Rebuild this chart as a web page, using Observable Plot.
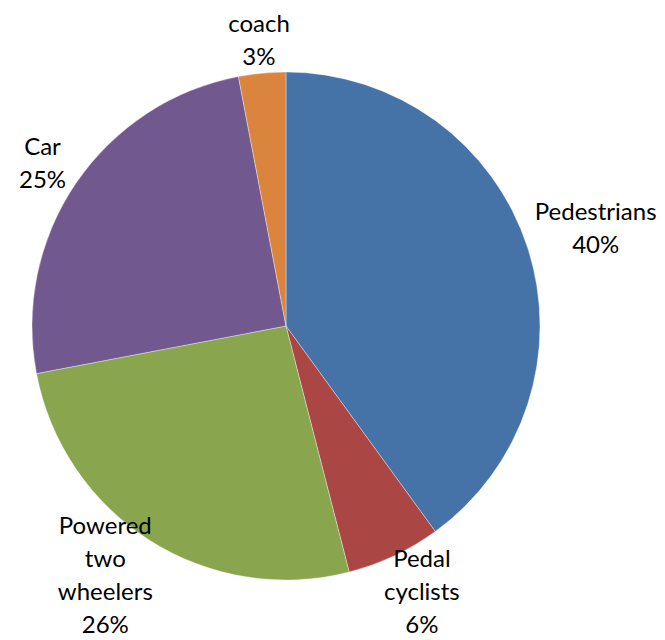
<!DOCTYPE html>
<html><head><meta charset="utf-8">
<script src="https://cdn.jsdelivr.net/npm/d3@7"></script>
<script src="https://cdn.jsdelivr.net/npm/@observablehq/plot@0.6"></script>
<style>body{margin:0;background:#fff}</style>
</head><body><div id="chart"></div>
<script>
const categories = ["Pedestrians", "Pedal cyclists", "Powered two wheelers", "Car", "coach"];
const labelLines = ["Pedestrians", "Pedal\ncyclists", "Powered\ntwo\nwheelers", "Car", "coach"];
const values = [40, 6, 26, 25, 3];
const colors = ["#4572A7", "#AA4643", "#89A54E", "#71588F", "#DB843D"];

const W = 665, H = 640, CX = 286, CY = 326, R = 254;
const FONT = 24, LH = 33, GAP = 3, FAMILY = "Lato";

const arcs = d3.pie().sort(null).value(d => d)(values);
const total = d3.sum(values);
const ctx = document.createElement("canvas").getContext("2d");
ctx.font = `${FONT}px ${FAMILY}`;

const slices = categories.map((c, i) => {
  const start = arcs[i].startAngle, end = arcs[i].endAngle, mid = (start + end) / 2;
  const text = labelLines[i] + "\n" + Math.round(values[i] / total * 100) + "%";
  const lines = text.split("\n");
  const w = d3.max(lines, l => ctx.measureText(l).width);
  const h = lines.length * LH;
  const d = R + GAP + Math.abs(Math.sin(mid)) * w / 2 + Math.abs(Math.cos(mid)) * h / 2;
  // pixel position, kept inside the frame
  let px = CX + d * Math.sin(mid), py = CY - d * Math.cos(mid);
  px = Math.max(12 + w / 2, Math.min(W - 1 - w / 2, px));
  py = Math.max(21 + (lines.length - 1) * LH / 2, Math.min(H - 18 - (lines.length - 1) * LH / 2, py));
  return {category: c, value: values[i], start, end, mid, text, lx: (px - CX) / R, ly: (CY - py) / R};
});

const colorScale = Plot.scale({color: {type: "ordinal", domain: categories, range: colors}});

const wedges = (index, scales) => {
  const cx = scales.x(0), cy = scales.y(0), r = scales.x(1) - scales.x(0);
  const arc = d3.arc().innerRadius(0).outerRadius(r);
  const g = d3.create("svg:g").attr("transform", `translate(${cx},${cy})`);
  g.selectAll("path").data(slices).join("path")
    .attr("d", d => arc({startAngle: d.start, endAngle: d.end}))
    .attr("fill", d => colorScale.apply(d.category))
    .attr("stroke", "#ffffff").attr("stroke-opacity", 0.6).attr("stroke-width", 0.6);
  return g.node();
};

const plot = Plot.plot({
  width: W, height: H, margin: 0,
  style: {background: "#fff"},
  x: {domain: [-CX / R, (W - CX) / R], range: [0, W], axis: null},
  y: {domain: [-(H - CY) / R, CY / R], range: [H, 0], axis: null},
  marks: [
    wedges,
    Plot.text(slices, {x: "lx", y: "ly", text: "text", fontSize: FONT, fontFamily: FAMILY, lineHeight: LH / FONT, fill: "#000"})
  ]
});
document.getElementById("chart").appendChild(plot);
</script>
</body></html>
